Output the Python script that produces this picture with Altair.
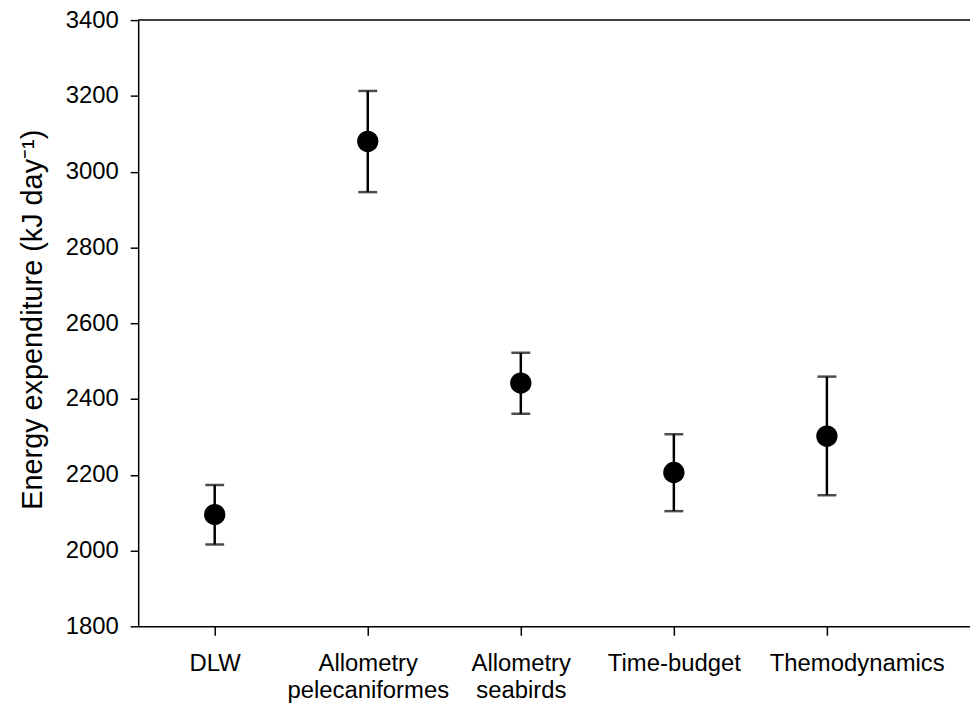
import json
import altair as alt
import pandas as pd

# ---- data ----
categories = ["DLW", "Allometry\npelecaniformes", "Allometry\nseabirds", "Time-budget", "Themodynamics"]
means = [2095, 3080, 2442, 2206, 2302]
upper = [2173, 3213, 2522, 2307, 2459]
lower = [2016, 2946, 2361, 2104, 2146]
y_ticks = [1800, 2000, 2200, 2400, 2600, 2800, 3000, 3200, 3400]

positions = list(range(1, len(categories) + 1))
df = pd.DataFrame({
    "pos": positions,
    "category": categories,
    "mean": means,
    "upper": upper,
    "lower": lower,
})

# label expression built from the category list (multi-line labels as arrays)
expr = "''"
for p, c in reversed(list(zip(positions, categories))):
    lines = c.split("\n")
    lab = json.dumps(lines) if len(lines) > 1 else json.dumps(lines[0])
    expr = f"datum.value == {p} ? {lab} : ({expr})"

FONT = "Liberation Sans"
FS = 24
W, H = 837, 610

xscale = alt.Scale(domain=[0.5, 5.935], nice=False, zero=False)
yscale = alt.Scale(domain=[1800, 3400], nice=False, zero=False)

xaxis = alt.Axis(
    values=positions, labelExpr=expr, title=None, grid=False,
    domainColor="black", domainWidth=1.5, tickColor="black", tickWidth=1.5,
    tickSize=9, labelFont=FONT, labelFontSize=FS, labelColor="black",
    labelPadding=16, labelLineHeight=28, labelOverlap=False, labelFlush=False,
    labelBaseline="top",
    labelOffset={"condition": {"test": f"datum.value == {positions[-1]}", "value": 30}, "value": 0},
)
yaxis = alt.Axis(
    values=y_ticks, format="d", title="Energy expenditure (kJ day\u207b\u00b9)",
    grid=False, domainColor="black", domainWidth=1.5, tickColor="black",
    tickWidth=1.5, tickSize=8, labelFont=FONT, labelFontSize=FS,
    labelColor="black", labelPadding=12, labelOverlap=False, labelFlush=False,
    titleFont=FONT, titleFontSize=29, titleFontWeight="normal", titleColor="black",
    titleX=-106, titleY=H / 2 - 4, titleAngle=-90, titleAlign="center",
    titleBaseline="middle",
)

base = alt.Chart(df)

bars = base.mark_errorbar(ticks=True, thickness=2.5, size=19, color="black").encode(
    x=alt.X("pos:Q", scale=xscale, axis=xaxis),
    y=alt.Y("lower:Q", scale=yscale, axis=yaxis),
    y2="upper:Q",
)

points = base.mark_point(filled=True, shape="circle", size=460, color="black", opacity=1).encode(
    x=alt.X("pos:Q", scale=xscale),
    y=alt.Y("mean:Q", scale=yscale),
)

top_line = alt.Chart(pd.DataFrame({"top": [y_ticks[-1]]})).mark_rule(
    color="black", strokeWidth=1.5
).encode(
    y=alt.Y("top:Q", scale=yscale),
    x=alt.value(0),
    x2=alt.value(W),
)

chart = alt.layer(top_line, bars, points).properties(
    width=W, height=H,
    autosize=alt.AutoSizeParams(type="none"),
    padding={"left": 131, "top": 10, "right": 0, "bottom": 77},
    background="white",
).configure_view(stroke=None)

chart.save("out.html", embed_options={"renderer": "svg", "actions": False})
